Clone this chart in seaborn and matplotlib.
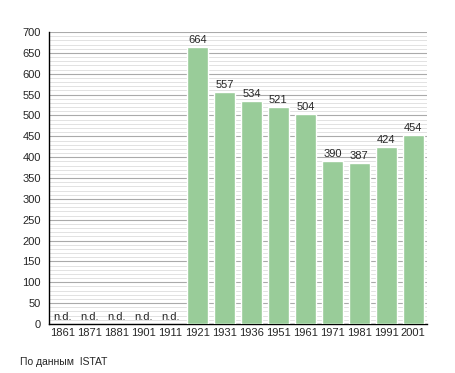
import matplotlib.pyplot as plt
import seaborn as sns
import pandas as pd
import numpy as np
from matplotlib.ticker import MultipleLocator

# data
years = ['1861', '1871', '1881', '1901', '1911', '1921', '1931',
         '1936', '1951', '1961', '1971', '1981', '1991', '2001']
population = [None, None, None, None, None, 664, 557,
              534, 521, 504, 390, 387, 424, 454]

df = pd.DataFrame({'year': years, 'pop': population})
df['pop'] = df['pop'].astype(float)

sns.set_style('white')
plt.rcParams['font.family'] = ['Liberation Sans', 'DejaVu Sans']

fig = plt.figure(figsize=(4.55, 3.73), dpi=100)
ax = fig.add_axes([0.1077, 0.1314, 0.8303, 0.7826])

sns.barplot(data=df, x='year', y='pop', ax=ax, color='#99cc99',
            saturation=1, width=0.78, zorder=3)

ax.set_ylim(0, 700)
ax.set_xlim(-0.5, len(years) - 0.5)
ax.yaxis.set_major_locator(MultipleLocator(50))
ax.yaxis.set_minor_locator(MultipleLocator(10))
ax.grid(which='major', axis='y', color='#aaaaaa', linewidth=0.8, zorder=0)
ax.grid(which='minor', axis='y', color='#dddddd', linewidth=0.6, zorder=0)
ax.set_axisbelow(True)

for s in ['top', 'right']:
    ax.spines[s].set_visible(False)
ax.spines['left'].set_color('black')
ax.spines['bottom'].set_color('black')
ax.spines['left'].set_linewidth(1)
ax.spines['bottom'].set_linewidth(1)

ax.tick_params(axis='y', which='major', direction='out', length=4, width=0.8,
               labelsize=8, pad=2)
ax.tick_params(axis='y', which='minor', direction='in', length=2, width=0.6)
ax.tick_params(axis='x', length=0, labelsize=8, pad=3)
ax.set_xlabel('')
ax.set_ylabel('')

# value labels
for i, v in enumerate(df['pop']):
    if np.isnan(v):
        ax.text(i, 4, 'n.d.', ha='center', va='bottom', fontsize=8)
    else:
        ax.text(i, v + 5, str(int(v)), ha='center', va='bottom', fontsize=8)

fig.text(0.044, 0.03, 'По данным  ISTAT', fontsize=7.5, ha='left', va='center')

fig.savefig('out.png', dpi=100)
